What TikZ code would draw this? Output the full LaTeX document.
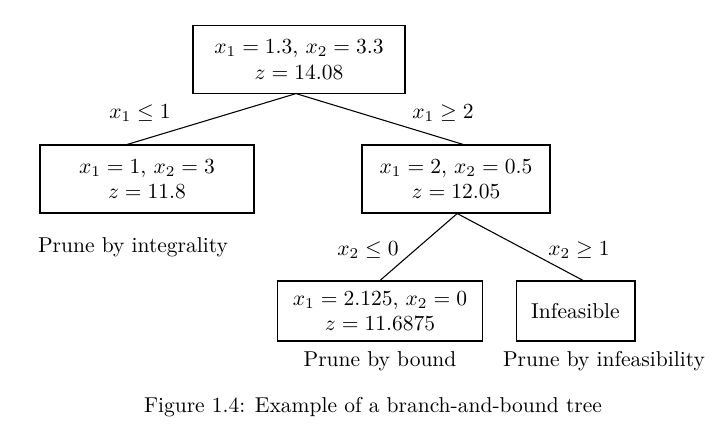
\documentclass[tikz,border=0pt]{standalone}
\usepackage{amsmath}
\begin{document}
\begin{tikzpicture}[x=0.465pt,y=-0.465pt,
    bbox/.style={draw,align=center,inner sep=0pt,line width=0.5pt},
    branch/.style={line width=0.5pt}]
    \useasboundingbox (0,0) rectangle (723,432);
    % nodes of the tree
    \node[bbox,minimum width=98.6pt,minimum height=31.2pt] (root) at (299,59.5)
        {$x_1 = 1.3$, $x_2 = 3.3$\\ $z = 14.08$};
    \node[bbox,minimum width=99.5pt,minimum height=31.6pt] (left) at (147,179)
        {$x_1 = 1$, $x_2 = 3$\\ $z = 11.8$};
    \node[bbox,minimum width=87.4pt,minimum height=31.6pt] (right) at (456,179)
        {$x_1 = 2$, $x_2 = 0.5$\\ $z = 12.05$};
    \node[bbox,minimum width=94.9pt,minimum height=27.9pt] (bound) at (380,311)
        {$x_1 = 2.125$, $x_2 = 0$\\ $z = 11.6875$};
    \node[bbox,minimum width=55.3pt,minimum height=27.9pt] (infeas) at (575.5,311)
        {Infeasible};
    % branches
    \draw[branch] (root.265) -- (left.120);
    \draw[branch] (root.265) -- (right.78);
    \draw[branch] (right.272) -- (bound.north);
    \draw[branch] (right.272) -- (infeas.76);
    % labels
    \node (lx1le) at (140,113) {$x_1 \leq 1$};
    \node (lx1ge) at (443,113) {$x_1 \geq 2$};
    \node (lx2le) at (368,250) {$x_2 \leq 0$};
    \node (lx2ge) at (579,250) {$x_2 \geq 1$};
    \node (pint) at (133,247) {Prune by integrality};
    \node (pbound) at (380,361) {Prune by bound};
    \node (pinf) at (604,361) {Prune by infeasibility};
    \node (caption) at (373,407) {Figure 1.4: Example of a branch-and-bound tree};
\end{tikzpicture}
\end{document}
